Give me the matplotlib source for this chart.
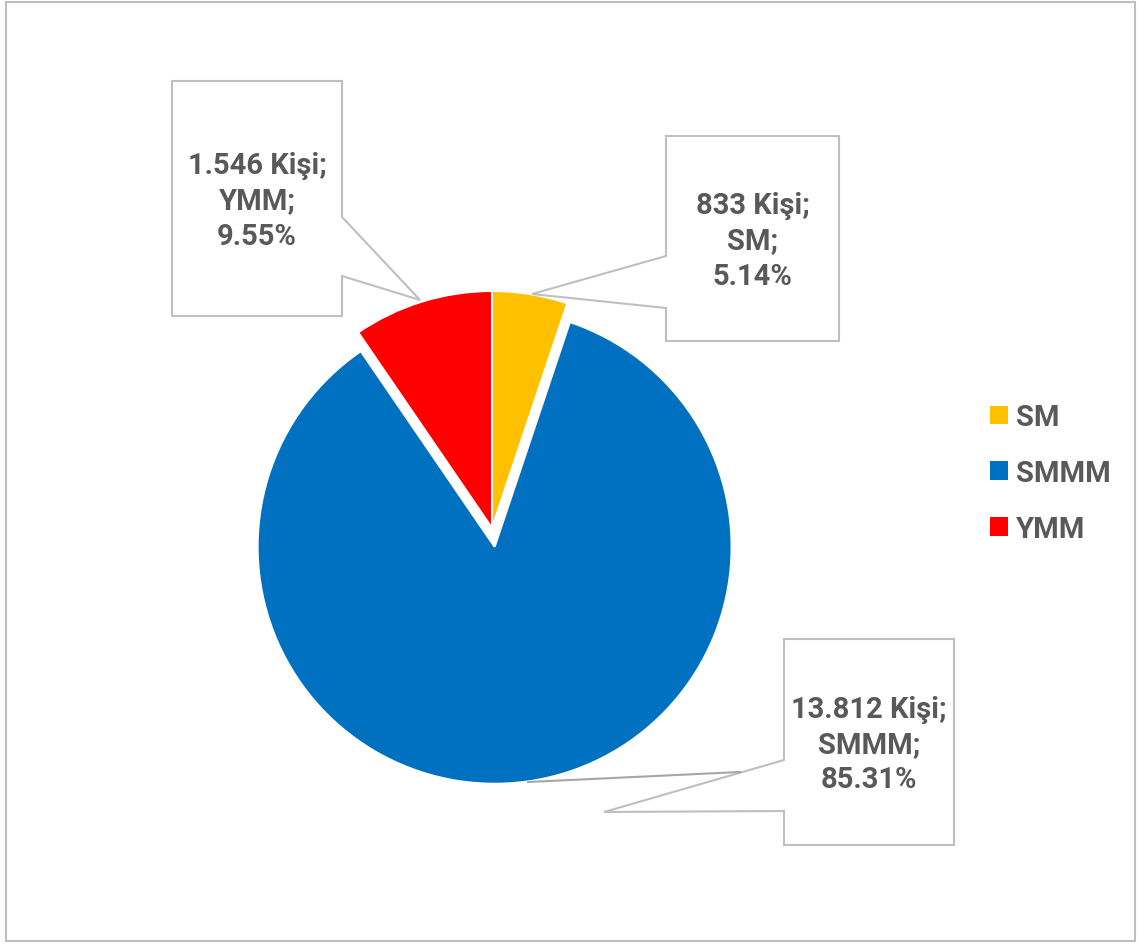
import matplotlib
matplotlib.use("Agg")
import matplotlib.pyplot as plt
from matplotlib.patches import Polygon, Rectangle

# Data
categories = ["SM", "SMMM", "YMM"]
counts = [833, 13812, 1546]
colors = ["#FFC000", "#0070C0", "#FF0000"]

W, H = 1140, 945
TEXT_GREY = "#595959"
LINE_GREY = "#BFBFBF"
FONT = ["Roboto", "DejaVu Sans"]
RADIUS = 237

fig = plt.figure(figsize=(W / 100, H / 100), dpi=100)
ax = fig.add_axes([0, 0, 1, 1])

# pie's explode offsets are in data units, so scale by the radius
wedges, _ = ax.pie(
    counts,
    colors=colors,
    startangle=90,
    counterclock=False,
    explode=[0, 0.08 * RADIUS, 0],
    center=(492, H - 529),
    radius=RADIUS,
    wedgeprops=dict(edgecolor="white", linewidth=1.5),
)
ax.set_xlim(0, W)
ax.set_ylim(0, H)
ax.set_aspect("equal")
ax.axis("off")

total = sum(counts)


def fmt_count(n):
    return f"{n:,}".replace(",", ".")


# Callout geometry (pixel coordinates, y measured from the top)
callouts = {
    "YMM": dict(box=(172, 82, 342, 317), side="right", notch=(218, 277), tip=(420, 301), leader=None),
    "SM": dict(box=(666, 137, 839, 342), side="left", notch=(257, 309), tip=(532, 295), leader=None),
    "SMMM": dict(box=(784, 640, 954, 846), side="left", notch=(761, 812), tip=(604, 813),
                 leader=((528, 783), (740, 773))),
}


def fy(y):
    return H - y


for name, cnt in zip(categories, counts):
    c = callouts[name]
    x0, y0, x1, y1 = c["box"]
    n0, n1 = c["notch"]
    tx, ty = c["tip"]
    if c["side"] == "right":
        pts = [(x0, y0), (x1, y0), (x1, n0), (tx, ty), (x1, n1), (x1, y1), (x0, y1)]
    else:
        pts = [(x0, y0), (x1, y0), (x1, y1), (x0, y1), (x0, n1), (tx, ty), (x0, n0)]
    poly = Polygon([(px, fy(py)) for px, py in pts], closed=True,
                   facecolor="white", edgecolor=LINE_GREY, linewidth=1.5, zorder=3)
    ax.add_patch(poly)
    if c["leader"] is not None:
        (lx0, ly0), (lx1, ly1) = c["leader"]
        ax.plot([lx0, lx1], [fy(ly0), fy(ly1)], color="#A6A6A6", linewidth=1.5, zorder=4)
    label = f"{fmt_count(cnt)} Kişi;\n{name};\n{100 * cnt / total:.2f}%"
    ax.text((x0 + x1) / 2, fy((y0 + y1) / 2 + 2), label, ha="center", va="center",
            fontsize=21, fontweight="bold", color=TEXT_GREY, family=FONT,
            linespacing=1.33, zorder=5)

leg = ax.legend(
    wedges, categories,
    loc="center left",
    bbox_to_anchor=(990 / W, fy(474) / H),
    bbox_transform=fig.transFigure,
    frameon=False,
    prop=dict(family=FONT, weight="bold", size=21),
    handlelength=0.62, handleheight=0.62,
    handletextpad=0.28, labelspacing=0.95,
    borderpad=0, borderaxespad=0,
)
for t in leg.get_texts():
    t.set_color(TEXT_GREY)
for h in leg.legend_handles:
    h.set_edgecolor("none")

# Chart-area border
fig.patches.append(Rectangle((6 / W, 3 / H), 1129 / W, 939 / H, transform=fig.transFigure,
                             fill=False, edgecolor=LINE_GREY, linewidth=1.5))

fig.savefig("out.png", dpi=100, facecolor="white")
